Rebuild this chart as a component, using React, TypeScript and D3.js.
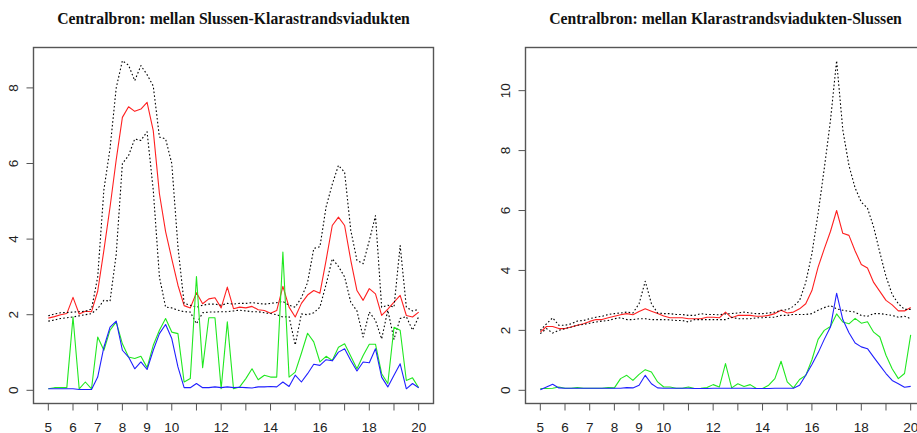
import React from "react";
import * as d3 from "d3";

// Time of day (hours), quarter-hour steps from 05:00 to 20:00
const hours: number[] = d3.range(61).map((i) => 5 + i * 0.25);

// Panel 1: Slussen -> Klarastrandsviadukten
const meanA = [1.91,1.95,2.0,2.03,2.46,2.02,2.09,2.08,2.62,3.7,4.85,6.1,7.22,7.5,7.38,7.44,7.62,6.87,5.2,4.2,3.48,2.78,2.24,2.18,2.58,2.29,2.42,2.45,2.18,2.73,2.16,2.2,2.18,2.22,2.13,2.11,2.04,2.11,2.75,2.2,1.94,2.3,2.52,2.64,2.57,3.44,4.36,4.58,4.36,3.44,2.64,2.38,2.69,2.55,1.98,2.15,2.33,2.51,1.98,1.94,2.07];
const upperA = [1.97,2.02,2.05,2.06,2.07,2.08,2.09,2.15,3.0,5.3,6.4,8.0,8.72,8.6,8.19,8.59,8.35,8.05,6.7,6.65,6.0,3.8,2.3,2.25,2.2,2.25,2.28,2.28,2.25,2.3,2.28,2.3,2.3,2.32,2.3,2.28,2.3,2.32,2.35,2.25,2.2,2.45,2.85,3.75,3.8,4.85,5.45,5.95,5.77,4.23,3.44,3.35,3.96,4.62,2.2,2.25,2.2,3.83,2.2,2.1,2.14];
const lowerA = [1.83,1.86,1.9,1.92,1.94,1.97,2.0,2.03,2.16,2.38,2.36,3.6,6.0,6.21,6.65,6.61,6.84,5.3,3.0,2.2,2.18,2.12,2.08,2.07,1.76,2.05,2.07,2.07,2.08,2.08,2.1,2.12,2.1,2.08,2.08,2.05,2.03,2.0,1.94,1.95,1.2,2.02,2.0,2.05,2.2,2.8,3.48,3.28,3.0,2.33,2.1,1.41,2.07,1.85,1.36,2.12,1.35,1.9,1.95,1.59,1.95];
const greenA = [0.04,0.07,0.07,0.07,1.94,0.04,0.22,0.04,1.41,1.06,1.59,1.81,1.23,0.88,0.84,0.9,0.6,1.19,1.59,1.9,1.54,1.5,0.22,0.31,3.01,0.6,1.92,1.92,0.04,1.81,0.04,0.09,0.31,0.57,0.28,0.4,0.35,0.35,3.66,0.35,0.48,0.98,1.51,1.28,0.75,0.9,0.79,1.14,1.23,0.9,0.57,0.92,1.22,1.22,0.44,0.18,1.67,1.59,0.26,0.33,0.07];
const blueA = [0.04,0.04,0.04,0.04,0.04,0.02,0.02,0.02,0.35,1.14,1.67,1.83,1.06,0.88,0.57,0.75,0.55,1.06,1.5,1.74,1.37,0.62,0.07,0.07,0.18,0.07,0.07,0.09,0.07,0.09,0.07,0.08,0.07,0.06,0.09,0.09,0.1,0.09,0.22,0.1,0.4,0.22,0.44,0.69,0.66,0.81,0.78,1.01,1.1,0.79,0.51,0.75,0.73,1.1,0.35,0.09,0.4,0.7,0.04,0.18,0.07];

// Panel 2: Klarastrandsviadukten -> Slussen
const meanB = [1.94,2.13,2.13,2.06,2.06,2.11,2.17,2.22,2.3,2.36,2.36,2.42,2.47,2.52,2.56,2.52,2.63,2.72,2.64,2.56,2.48,2.42,2.42,2.42,2.39,2.39,2.39,2.44,2.44,2.42,2.61,2.42,2.5,2.5,2.5,2.47,2.47,2.5,2.56,2.67,2.58,2.61,2.72,2.89,3.33,4.11,4.72,5.3,6.0,5.24,5.17,4.65,4.2,4.08,3.6,3.3,3.0,2.85,2.65,2.65,2.76];
const upperB = [2.0,2.22,2.42,2.17,2.17,2.22,2.31,2.33,2.39,2.44,2.47,2.53,2.56,2.58,2.61,2.58,2.89,3.64,2.89,2.58,2.56,2.56,2.53,2.53,2.5,2.5,2.56,2.53,2.53,2.52,2.55,2.56,2.58,2.61,2.58,2.56,2.56,2.58,2.61,2.67,2.69,2.8,3.0,3.6,4.56,5.9,7.4,9.0,11.0,8.7,7.5,6.75,6.28,6.08,5.45,4.6,3.8,3.2,2.89,2.7,2.7];
const lowerB = [1.89,2.06,1.91,2.0,2.06,2.11,2.17,2.2,2.24,2.28,2.31,2.33,2.39,2.42,2.36,2.36,2.39,2.39,2.36,2.36,2.36,2.35,2.33,2.33,2.28,2.36,2.36,2.36,2.36,2.36,2.36,2.44,2.39,2.39,2.39,2.42,2.42,2.44,2.44,2.5,2.5,2.53,2.53,2.53,2.56,2.67,2.76,2.83,2.72,2.67,2.64,2.61,2.5,2.47,2.56,2.56,2.53,2.5,2.44,2.47,2.39];
const greenB = [0.06,0.06,0.07,0.11,0.07,0.07,0.09,0.07,0.07,0.07,0.07,0.09,0.08,0.39,0.5,0.33,0.53,0.69,0.61,0.28,0.11,0.11,0.07,0.07,0.11,0.06,0.07,0.09,0.19,0.11,0.89,0.08,0.22,0.13,0.19,0.06,0.06,0.17,0.39,0.97,0.28,0.08,0.36,0.5,1.02,1.7,2.0,2.13,2.55,2.28,2.22,2.4,2.24,2.29,1.94,1.78,1.17,0.72,0.39,0.56,1.85];
const blueB = [0.02,0.11,0.2,0.08,0.07,0.07,0.07,0.07,0.07,0.07,0.07,0.07,0.07,0.07,0.09,0.08,0.17,0.5,0.22,0.08,0.07,0.07,0.07,0.07,0.07,0.06,0.06,0.06,0.07,0.07,0.07,0.07,0.07,0.07,0.07,0.06,0.06,0.06,0.07,0.07,0.07,0.07,0.17,0.5,0.86,1.25,1.7,2.11,3.24,2.36,1.92,1.58,1.45,1.39,1.11,0.83,0.56,0.33,0.22,0.1,0.13];

const titles = [
  "Centralbron: mellan Slussen-Klarastrandsviadukten",
  "Centralbron: mellan Klarastrandsviadukten-Slussen",
];
const xTicks: number[] = d3.range(5, 21);
const xTickLabels = [5, 6, 7, 8, 9, 10, 12, 14, 16, 18, 20];
const yTicksA = [0, 2, 4, 6, 8];
const yTicksB = [0, 2, 4, 6, 8, 10];

const W = 917;
const H = 433;
const TOP = 47.5;
const BOTTOM = 403.5;
const BOX_W = 400;
const AXIS_COLOR = "#555";
const TICK_FONT = "'Liberation Sans', Arial, sans-serif";

type Panel = {
  title: string;
  left: number;
  yTicks: number[];
  mean: number[];
  upper: number[];
  lower: number[];
  green: number[];
  blue: number[];
};

const panels: Panel[] = [
  { title: titles[0], left: 33.5, yTicks: yTicksA, mean: meanA, upper: upperA, lower: lowerA, green: greenA, blue: blueA },
  { title: titles[1], left: 525.5, yTicks: yTicksB, mean: meanB, upper: upperB, lower: lowerB, green: greenB, blue: blueB },
];

// R-style 4% axis padding
function padded(lo: number, hi: number): [number, number] {
  const r = hi - lo;
  return [lo - 0.04 * r, hi + 0.04 * r];
}

function PanelPlot({ p, idx }: { p: Panel; idx: number }) {
  const right = p.left + BOX_W;
  const x = d3.scaleLinear().domain(padded(5, 20)).range([p.left, right]);
  const all = [...p.mean, ...p.upper, ...p.lower, ...p.green, ...p.blue];
  const y = d3
    .scaleLinear()
    .domain(padded(0, d3.max(all) as number))
    .range([BOTTOM, TOP]);
  const line = (vals: number[]) =>
    d3
      .line<number>()
      .x((_, i) => x(hours[i]))
      .y((v) => y(v))(vals) || "";
  const clipId = `plot-clip-${idx}`;
  return (
    <g>
      <text
        x={(p.left + right) / 2}
        y={24}
        textAnchor="middle"
        fontFamily="'Liberation Serif', 'Times New Roman', serif"
        fontWeight="bold"
        fontSize={15.7}
        fill="#111"
      >
        {p.title}
      </text>
      <defs>
        <clipPath id={clipId}>
          <rect x={p.left} y={TOP} width={BOX_W} height={BOTTOM - TOP} />
        </clipPath>
      </defs>
      <g clipPath={`url(#${clipId})`} fill="none" strokeWidth={1.1} strokeLinejoin="round">
        <path d={line(p.mean)} stroke="#ff2020" />
        <path d={line(p.upper)} stroke="#000" strokeDasharray="1.6,2.2" />
        <path d={line(p.lower)} stroke="#000" strokeDasharray="1.6,2.2" />
        <path d={line(p.green)} stroke="#20e820" />
        <path d={line(p.blue)} stroke="#2020ff" />
      </g>
      <rect
        x={p.left}
        y={TOP}
        width={BOX_W}
        height={BOTTOM - TOP}
        fill="none"
        stroke={AXIS_COLOR}
        strokeWidth={1.4}
      />
      {/* x axis */}
      {xTicks.map((t) => (
        <line key={`xt${t}`} x1={x(t)} x2={x(t)} y1={BOTTOM} y2={BOTTOM + 7} stroke={AXIS_COLOR} strokeWidth={1} />
      ))}
      {xTickLabels.map((t) => (
        <text
          key={`xl${t}`}
          x={x(t)}
          y={431.5}
          textAnchor="middle"
          fontFamily={TICK_FONT}
          fontSize={13.5}
          fill="#222"
        >
          {t}
        </text>
      ))}
      {/* y axis */}
      {p.yTicks.map((t) => (
        <g key={`yt${t}`}>
          <line x1={p.left - 7} x2={p.left} y1={y(t)} y2={y(t)} stroke={AXIS_COLOR} strokeWidth={1} />
          <text
            transform={`translate(${p.left - 15.5},${y(t)}) rotate(-90)`}
            textAnchor="middle"
            fontFamily={TICK_FONT}
            fontSize={13.5}
            fill="#222"
          >
            {t}
          </text>
        </g>
      ))}
    </g>
  );
}

export default function App() {
  return (
    <svg
      width={W}
      height={H}
      viewBox={`0 0 ${W} ${H}`}
      style={{ position: "absolute", left: 0, top: 0, background: "#fff" }}
    >
      <rect x={0} y={0} width={W} height={H} fill="#fff" />
      {panels.map((p, i) => (
        <PanelPlot key={i} p={p} idx={i} />
      ))}
    </svg>
  );
}
